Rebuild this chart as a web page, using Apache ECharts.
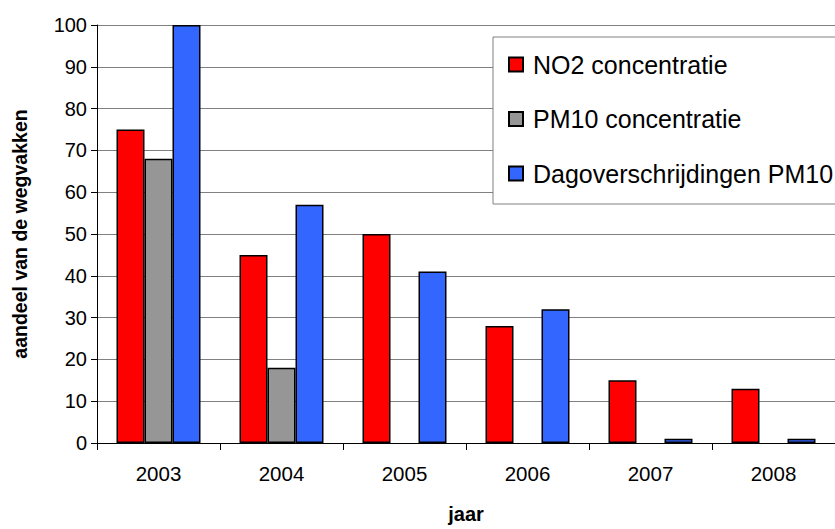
<!DOCTYPE html>
<html>
<head>
<meta charset="utf-8">
<script src="https://cdn.jsdelivr.net/npm/echarts@6/dist/echarts.min.js"></script>
<style>
	html, body { margin: 0; padding: 0; background: #fff; }
	#main { width: 835px; height: 529px; }
</style>
</head>
<body>
<div id="main"></div>
<script>
const years = ['2003', '2004', '2005', '2006', '2007', '2008'];
const no2 = [75, 45, 50, 28, 15, 13];
const pm10 = [68, 18, null, null, null, null];
const dagover = [100, 57, 41, 32, 1, 1];

const FONT = "'Liberation Sans', Arial, sans-serif";

// 	// initialize chart --->
const myChart = echarts.init(document.getElementById('main'), null, { renderer: 'svg' });

function barSeries(name, data, color) {
	return {
		name: name,
		type: 'bar',
		data: data,
		barWidth: 28,
		barGap: '0%',
		itemStyle: {
			color: color,
			borderColor: '#000',
			borderWidth: 1.5
		}
	};
}

const option = {
	animation: false,
	textStyle: { fontFamily: FONT },
	grid: {
		left: 97,
		top: 25,
		width: 751,
		height: 419
	},
	legend: {
		orient: 'vertical',
		left: 493,
		top: 37,
		padding: [15, 60, 18, 15],
		itemGap: 29.5,
		itemWidth: 14,
		itemHeight: 14,
		icon: 'rect',
		backgroundColor: '#fff',
		borderColor: '#808080',
		borderWidth: 1,
		textStyle: {
			fontFamily: FONT,
			fontSize: 25,
			color: '#000',
			padding: [0, 0, 0, 5]
		},
		data: ['NO2 concentratie', 'PM10 concentratie', 'Dagoverschrijdingen PM10']
	},
	xAxis: {
		type: 'category',
		data: years,
		name: 'jaar',
		nameLocation: 'middle',
		nameGap: 61,
		nameTextStyle: { fontFamily: FONT, fontSize: 20, fontWeight: 'bold', color: '#000' },
		axisLine: { lineStyle: { color: '#000', width: 1 } },
		axisTick: { show: true, length: 7, lineStyle: { color: '#000' } },
		axisLabel: { fontFamily: FONT, fontSize: 20.5, color: '#000', margin: 20 }
	},
	yAxis: {
		type: 'value',
		min: 0,
		max: 100,
		interval: 10,
		name: 'aandeel van de wegvakken',
		nameLocation: 'middle',
		nameGap: 67,
		nameTextStyle: { fontFamily: FONT, fontSize: 19.5, fontWeight: 'bold', color: '#000' },
		axisLine: { show: true, lineStyle: { color: '#000', width: 1 } },
		axisTick: { show: true, length: 6, lineStyle: { color: '#000' } },
		axisLabel: { fontFamily: FONT, fontSize: 20, color: '#000', margin: 10 },
		splitLine: { show: true, lineStyle: { color: '#808080', width: 1 } }
	},
	series: [
		barSeries('NO2 concentratie', no2, '#ff0000'),
		barSeries('PM10 concentratie', pm10, '#969696'),
		barSeries('Dagoverschrijdingen PM10', dagover, '#3366ff')
	]
};

myChart.setOption(option);
// 	// <--- initialize chart
</script>
</body>
</html>
